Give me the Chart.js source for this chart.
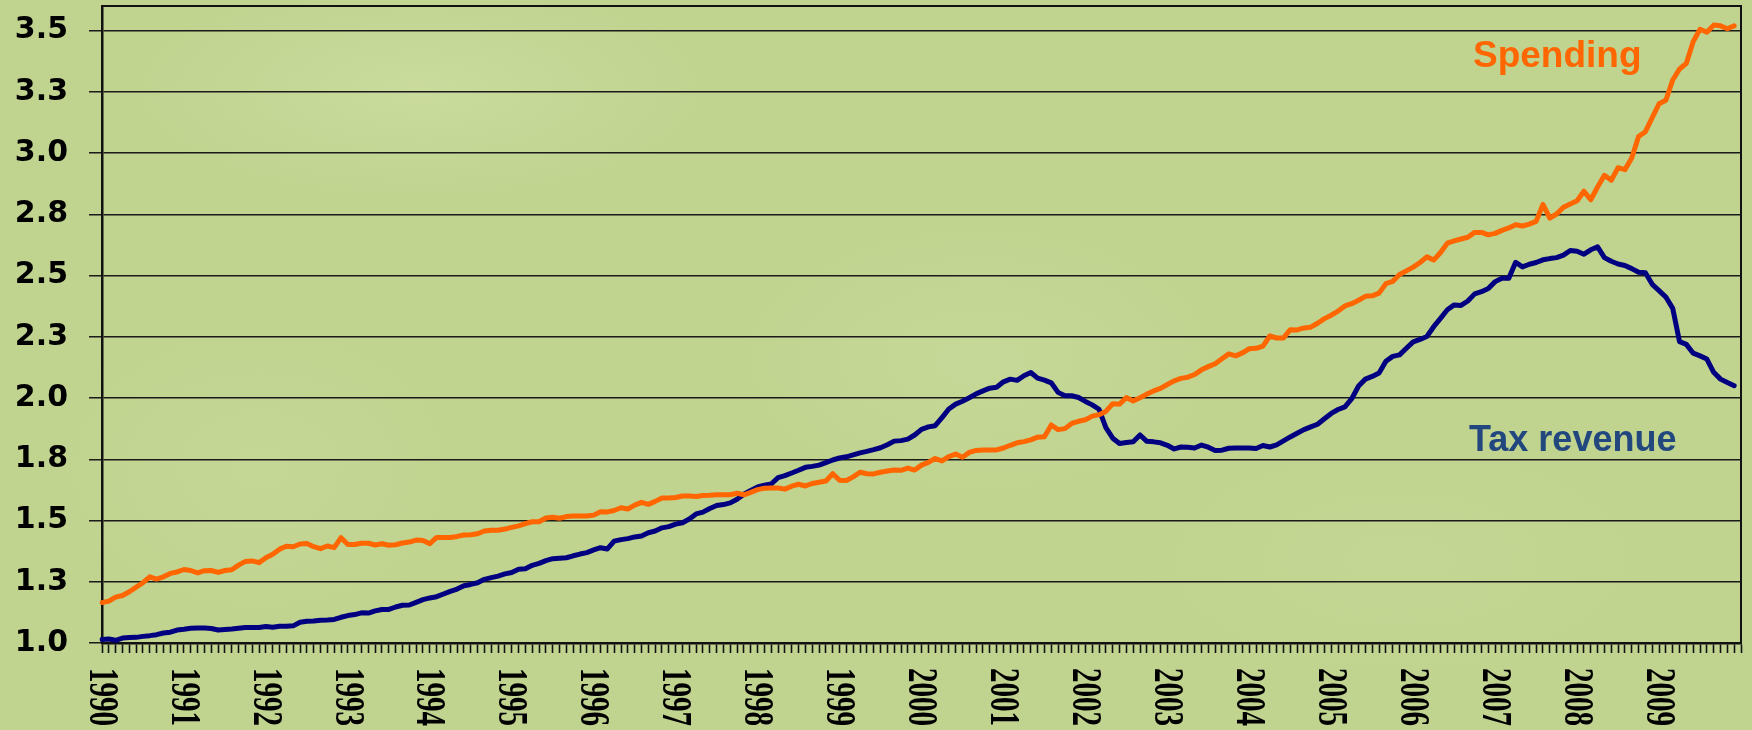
<!DOCTYPE html>
<html lang="en">
<head>
    <meta charset="UTF-8">
    <title>Spending vs Tax revenue</title>
    <style>
        html, body {
            margin: 0;
            padding: 0;
        }

        body {
            width: 1752px;
            height: 730px;
            overflow: hidden;
            background-color: #c0d38f;
            background-image:
                radial-gradient(ellipse 420px 160px at 420px 90px, rgba(210, 226, 168, 0.55), rgba(210, 226, 168, 0) 70%),
                radial-gradient(ellipse 360px 200px at 980px 360px, rgba(205, 222, 160, 0.5), rgba(205, 222, 160, 0) 70%),
                radial-gradient(ellipse 300px 220px at 260px 470px, rgba(202, 220, 156, 0.45), rgba(202, 220, 156, 0) 70%),
                radial-gradient(ellipse 380px 180px at 1400px 560px, rgba(200, 218, 152, 0.45), rgba(200, 218, 152, 0) 70%);
        }

        .chart-box {
            position: relative;
            width: 1752px;
            height: 730px;
        }
    </style>
    <script src="https://cdn.jsdelivr.net/npm/chart.js"></script>
</head>
<body>
    <div class="chart-box">
        <canvas id="budgetChart"></canvas>
    </div>

    <script>
        // Year labels on the x axis (one tick mark per month)
        const years = ['1990', '1991', '1992', '1993', '1994', '1995', '1996', '1997', '1998', '1999',
                       '2000', '2001', '2002', '2003', '2004', '2005', '2006', '2007', '2008', '2009'];

        // Monthly values, Jan 1990 - Dec 2009
        const spending = [
            1.165, 1.171, 1.187, 1.194, 1.209, 1.228, 1.246, 1.270, 1.261, 1.270, 1.284, 1.290,
            1.300, 1.296, 1.286, 1.295, 1.296, 1.288, 1.296, 1.299, 1.318, 1.333, 1.335, 1.328,
            1.348, 1.362, 1.383, 1.395, 1.393, 1.404, 1.406, 1.393, 1.385, 1.396, 1.389, 1.430,
            1.402, 1.402, 1.407, 1.407, 1.400, 1.405, 1.399, 1.401, 1.408, 1.412, 1.420, 1.418,
            1.405, 1.431, 1.431, 1.431, 1.435, 1.441, 1.442, 1.446, 1.457, 1.460, 1.460, 1.465,
            1.472, 1.478, 1.487, 1.495, 1.495, 1.510, 1.513, 1.509, 1.516, 1.518, 1.518, 1.518,
            1.522, 1.536, 1.535, 1.541, 1.552, 1.547, 1.563, 1.574, 1.566, 1.578, 1.592, 1.592,
            1.594, 1.600, 1.600, 1.598, 1.602, 1.603, 1.605, 1.605, 1.605, 1.611, 1.605, 1.615,
            1.626, 1.632, 1.633, 1.633, 1.628, 1.640, 1.648, 1.641, 1.651, 1.656, 1.661, 1.691,
            1.664, 1.663, 1.678, 1.697, 1.691, 1.690, 1.697, 1.702, 1.706, 1.705, 1.714, 1.706,
            1.726, 1.737, 1.753, 1.743, 1.761, 1.771, 1.758, 1.778, 1.786, 1.788, 1.788, 1.788,
            1.796, 1.807, 1.817, 1.822, 1.829, 1.840, 1.842, 1.890, 1.871, 1.875, 1.896, 1.905,
            1.911, 1.926, 1.932, 1.945, 1.977, 1.975, 2.002, 1.988, 2.001, 2.016, 2.029, 2.039,
            2.055, 2.070, 2.080, 2.085, 2.096, 2.115, 2.128, 2.140, 2.160, 2.180, 2.172, 2.184,
            2.201, 2.203, 2.212, 2.253, 2.245, 2.245, 2.279, 2.278, 2.286, 2.289, 2.305, 2.324,
            2.338, 2.355, 2.376, 2.385, 2.399, 2.415, 2.417, 2.428, 2.467, 2.476, 2.504, 2.519,
            2.534, 2.553, 2.576, 2.563, 2.594, 2.632, 2.641, 2.649, 2.656, 2.676, 2.676, 2.666,
            2.672, 2.684, 2.694, 2.707, 2.702, 2.710, 2.721, 2.790, 2.734, 2.751, 2.779, 2.792,
            2.805, 2.844, 2.809, 2.861, 2.909, 2.889, 2.940, 2.932, 2.980, 3.067, 3.087, 3.144,
            3.201, 3.215, 3.298, 3.343, 3.366, 3.455, 3.505, 3.493, 3.522, 3.519, 3.507, 3.519
        ];

        const taxRevenue = [
            1.014, 1.016, 1.011, 1.020, 1.022, 1.023, 1.027, 1.030, 1.034, 1.041, 1.044, 1.053,
            1.056, 1.060, 1.061, 1.061, 1.059, 1.053, 1.055, 1.057, 1.060, 1.063, 1.063, 1.063,
            1.067, 1.064, 1.068, 1.068, 1.070, 1.085, 1.089, 1.090, 1.093, 1.094, 1.096, 1.105,
            1.112, 1.116, 1.123, 1.122, 1.131, 1.137, 1.137, 1.147, 1.154, 1.155, 1.166, 1.177,
            1.184, 1.189, 1.200, 1.211, 1.220, 1.234, 1.239, 1.246, 1.260, 1.267, 1.273, 1.282,
            1.288, 1.301, 1.303, 1.317, 1.325, 1.336, 1.344, 1.346, 1.348, 1.356, 1.363, 1.369,
            1.380, 1.389, 1.384, 1.416, 1.422, 1.426, 1.433, 1.437, 1.450, 1.457, 1.470, 1.475,
            1.485, 1.491, 1.506, 1.527, 1.534, 1.549, 1.561, 1.565, 1.572, 1.587, 1.607, 1.623,
            1.637, 1.644, 1.649, 1.675, 1.683, 1.694, 1.705, 1.717, 1.721, 1.726, 1.736, 1.747,
            1.755, 1.760, 1.768, 1.776, 1.782, 1.789, 1.797, 1.809, 1.824, 1.826, 1.832, 1.849,
            1.872, 1.882, 1.887, 1.920, 1.955, 1.975, 1.987, 2.001, 2.017, 2.029, 2.040, 2.044,
            2.066, 2.077, 2.072, 2.091, 2.104, 2.081, 2.073, 2.062, 2.023, 2.009, 2.009, 2.002,
            1.986, 1.972, 1.954, 1.879, 1.836, 1.814, 1.818, 1.821, 1.849, 1.823, 1.821, 1.817,
            1.807, 1.792, 1.800, 1.799, 1.796, 1.808, 1.799, 1.786, 1.787, 1.795, 1.796, 1.796,
            1.796, 1.794, 1.806, 1.800, 1.809, 1.825, 1.841, 1.856, 1.871, 1.882, 1.893, 1.915,
            1.937, 1.953, 1.964, 1.997, 2.049, 2.077, 2.088, 2.102, 2.150, 2.170, 2.176, 2.203,
            2.229, 2.239, 2.251, 2.291, 2.325, 2.360, 2.380, 2.378, 2.396, 2.425, 2.434, 2.447,
            2.475, 2.489, 2.489, 2.554, 2.535, 2.546, 2.553, 2.564, 2.569, 2.573, 2.583, 2.602,
            2.599, 2.587, 2.605, 2.617, 2.573, 2.558, 2.547, 2.541, 2.528, 2.513, 2.511, 2.464,
            2.438, 2.412, 2.366, 2.230, 2.219, 2.183, 2.172, 2.159, 2.105, 2.077, 2.063, 2.050
        ];

        // one category per month plus the closing tick (Jan 2010)
        const months = [];
        years.forEach(y => {
            for (let m = 1; m <= 12; m++) months.push(y + '-' + m);
        });
        months.push('2010-1');

        // year labels read top to bottom, plus the two series names and the frame
        const decorations = {
            id: 'decorations',
            afterDraw(chart) {
                const ctx = chart.ctx;
                const area = chart.chartArea;
                const xScale = chart.scales.x;

                ctx.save();
                ctx.strokeStyle = '#111';
                ctx.lineWidth = 2;
                ctx.beginPath();
                ctx.moveTo(area.left, area.top);
                ctx.lineTo(area.right, area.top);
                ctx.lineTo(area.right, area.bottom);
                ctx.stroke();

                ctx.fillStyle = '#000';
                ctx.font = 'bold 29px "Liberation Serif", "Times New Roman", serif';
                ctx.textAlign = 'left';
                ctx.textBaseline = 'middle';
                years.forEach((y, i) => {
                    const x = xScale.getPixelForValue(i * 12);
                    ctx.save();
                    ctx.translate(x, 668);
                    ctx.rotate(Math.PI / 2);
                    ctx.scale(1, 1.45);
                    ctx.fillText(y, 0, 1);
                    ctx.restore();
                });

                ctx.textBaseline = 'alphabetic';
                ctx.font = 'bold 37px "Liberation Sans", Arial, sans-serif';
                ctx.fillStyle = '#ff6600';
                ctx.fillText('Spending', 1473, 67);
                ctx.font = 'bold 36px "Liberation Sans", Arial, sans-serif';
                ctx.fillStyle = '#22477f';
                ctx.fillText('Tax revenue', 1469, 451);
                ctx.restore();
            }
        };

        const ctx = document.getElementById('budgetChart').getContext('2d');
        const budgetChart = new Chart(ctx, {
            type: 'line',
            data: {
                labels: months,
                datasets: [{
                    label: 'Spending',
                    data: spending,
                    borderColor: '#ff6600',
                    borderWidth: 5,
                    pointRadius: 0,
                    tension: 0,
                    borderJoinStyle: 'round',
                    borderCapStyle: 'round'
                }, {
                    label: 'Tax revenue',
                    data: taxRevenue,
                    borderColor: '#000080',
                    borderWidth: 5,
                    pointRadius: 0,
                    tension: 0,
                    borderJoinStyle: 'round',
                    borderCapStyle: 'round'
                }]
            },
            options: {
                responsive: true,
                maintainAspectRatio: false,
                animation: false,
                layout: {
                    padding: { top: 6, right: 11, bottom: 0, left: 0 }
                },
                plugins: {
                    legend: { display: false },
                    tooltip: { enabled: false }
                },
                scales: {
                    x: {
                        type: 'category',
                        offset: false,
                        afterFit: scale => {
                            scale.height = 87;
                            scale.paddingLeft = 0;
                            scale.paddingRight = 0;
                        },
                        grid: {
                            drawOnChartArea: false,
                            drawTicks: true,
                            tickLength: 10,
                            tickWidth: 1.6,
                            tickColor: '#111'
                        },
                        border: { display: true, color: '#111', width: 2.5 },
                        ticks: { display: false, autoSkip: false }
                    },
                    y: {
                        min: 1.0,
                        max: 3.6,
                        afterFit: scale => {
                            scale.width = 102;
                            scale.paddingTop = 0;
                            scale.paddingBottom = 0;
                        },
                        grid: {
                            color: '#1a1a1a',
                            lineWidth: 1.5,
                            tickLength: 13
                        },
                        border: { display: true, color: '#111', width: 2.5 },
                        ticks: {
                            stepSize: 0.25,
                            includeBounds: false,
                            padding: 21,
                            color: '#000',
                            font: { family: 'DejaVu Sans', weight: 'bold', size: 30 },
                            callback: v => Number(v).toFixed(1)
                        }
                    }
                }
            },
            plugins: [decorations]
        });
    </script>
</body>
</html>
